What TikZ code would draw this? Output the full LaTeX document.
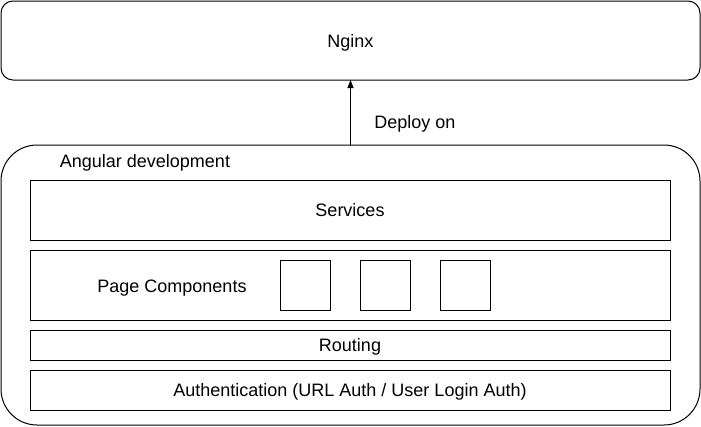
\documentclass[tikz,border=0pt]{standalone}
\usepackage{fontspec}
\setmainfont{Liberation Sans}
\usetikzlibrary{arrows.meta}

\tikzset{
    layer/.style={draw, line width=0.75pt, inner sep=0pt, outer sep=0pt, minimum width=480pt},
    comp/.style={draw, line width=0.75pt, inner sep=0pt, outer sep=0pt, minimum width=37.5pt, minimum height=37.5pt},
    lbl/.style={inner sep=0pt}
}

\begin{document}
\begin{tikzpicture}[x=0.75pt, y=-0.75pt, every node/.style={font=\fontsize{13.5}{16}\selectfont, text depth=0pt}]
            \useasboundingbox (0,0) rectangle (701,426);

            % Server
            \node[draw, line width=0.75pt, rounded corners=9pt, inner sep=0pt, outer sep=0pt,
                  minimum width=524.25pt, minimum height=59.25pt] (nginx) at (350.5,40.5) {Nginx};

            % Angular container
            \node[draw, line width=0.75pt, rounded corners=27pt, inner sep=0pt, outer sep=0pt,
                  minimum width=524.25pt, minimum height=210pt] (angular) at (350.5,285) {};
            \node[lbl] (angtitle) at (145,161) {Angular development};

            % Layers
            \node[layer, minimum height=45pt] (services) at (350,210) {Services};
            \node[layer, minimum height=52.5pt] (pages) at (350,285) {};
            \node[lbl] (pagetitle) at (172,286) {Page Components};
            \node[layer, minimum height=22.5pt] (routing) at (350,345) {Routing};
            \node[layer, minimum height=30pt] (auth) at (350,390) {Authentication (URL Auth / User Login Auth)};

            % Components
            \foreach \i/\cx in {1/305, 2/385, 3/465}
                \node[comp] (c\i) at (\cx,285) {};

            % Deploy
            \draw[line width=0.75pt, -{Triangle[length=6pt, width=4.5pt]}] (angular.north) -- (nginx.south);
            \node[lbl] (deploy) at (415,122) {Deploy on};
        \end{tikzpicture}
\end{document}
